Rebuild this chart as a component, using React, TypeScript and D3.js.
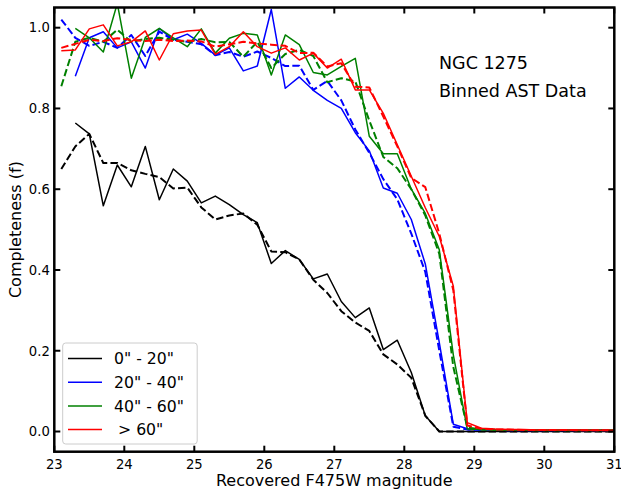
import React from "react";
import * as d3 from "d3";

const mags = [23.1, 23.3, 23.5, 23.7, 23.9, 24.1, 24.3, 24.5, 24.7, 24.9, 25.1, 25.3, 25.5, 25.7, 25.9, 26.1, 26.3, 26.5, 26.7, 26.9, 27.1, 27.3, 27.5, 27.7, 27.9, 28.1, 28.3, 28.5, 28.7, 28.9, 29.1, 29.3, 29.5, 29.7, 29.9, 30.1, 30.3, 30.5, 30.7, 30.9, 31.1];

// 0" - 20"
const blackSolid = [null, 0.764, 0.737, 0.559, 0.66, 0.606, 0.706, 0.574, 0.65, 0.62, 0.566, 0.583, 0.562, 0.537, 0.517, 0.416, 0.448, 0.426, 0.378, 0.39, 0.322, 0.282, 0.306, 0.203, 0.226, 0.146, 0.039, 0.0, 0.0, 0.0, 0.0, 0.0, 0.0, 0.0, 0.0, 0.0, 0.0, 0.0, 0.0, 0.0, 0.0];
const blackDashed = [0.65, 0.706, 0.737, 0.665, 0.665, 0.647, 0.638, 0.63, 0.602, 0.604, 0.555, 0.525, 0.535, 0.54, 0.512, 0.446, 0.444, 0.426, 0.376, 0.343, 0.298, 0.27, 0.249, 0.191, 0.166, 0.133, 0.039, 0.0, 0.0, 0.0, 0.0, 0.0, 0.0, 0.0, 0.0, 0.0, 0.0, 0.0, 0.0, 0.0, 0.0];
// 20" - 40"
const blueSolid = [null, 0.88, 0.975, 0.99, 0.95, 0.965, 0.9, 0.998, 0.97, 0.984, 0.961, 0.932, 0.95, 0.893, 0.905, 1.045, 0.85, 0.878, 0.845, 0.82, 0.8, 0.74, 0.695, 0.603, 0.59, 0.525, 0.415, 0.22, 0.018, 0.007, 0.005, 0.004, 0.004, 0.003, 0.003, 0.003, 0.003, 0.003, 0.003, 0.003, 0.003];
const blueDashed = [1.02, 0.975, 0.955, 0.965, 0.95, 0.982, 0.93, 0.99, 0.97, 0.965, 0.959, 0.932, 0.94, 0.928, 0.941, 0.925, 0.905, 0.906, 0.846, 0.868, 0.82, 0.748, 0.69, 0.625, 0.575, 0.49, 0.395, 0.2, 0.012, 0.005, 0.004, 0.004, 0.003, 0.003, 0.003, 0.003, 0.003, 0.003, 0.003, 0.003, 0.003];
// 40" - 60"
const greenSolid = [null, 0.998, 0.975, 0.94, 1.06, 0.875, 0.976, 0.998, 0.975, 0.953, 0.997, 0.937, 0.974, 0.986, 0.982, 0.883, 0.982, 0.958, 0.889, 0.883, 0.904, 0.924, 0.731, 0.688, 0.688, 0.6, 0.54, 0.45, 0.19, 0.006, 0.005, 0.004, 0.004, 0.004, 0.003, 0.003, 0.003, 0.003, 0.003, 0.003, 0.003];
const greenDashed = [0.855, 0.965, 0.975, 0.965, 0.995, 0.965, 0.972, 0.975, 0.97, 0.965, 0.972, 0.964, 0.965, 0.928, 0.965, 0.9, 0.935, 0.945, 0.93, 0.865, 0.875, 0.867, 0.77, 0.68, 0.652, 0.6, 0.535, 0.44, 0.16, 0.01, 0.005, 0.004, 0.004, 0.004, 0.003, 0.003, 0.003, 0.003, 0.003, 0.003, 0.003];
// > 60"
const redSolid = [0.943, 0.945, 0.997, 1.007, 0.955, 0.965, 0.992, 0.92, 0.985, 0.992, 0.994, 0.934, 0.953, 0.99, 0.953, 0.937, 0.95, 0.92, 0.937, 0.9, 0.922, 0.846, 0.846, 0.788, 0.71, 0.632, 0.554, 0.483, 0.36, 0.022, 0.008, 0.006, 0.005, 0.005, 0.004, 0.004, 0.004, 0.004, 0.003, 0.003, 0.003];
const redDashed = [0.95, 0.96, 0.97, 0.967, 0.974, 0.97, 0.967, 0.97, 0.967, 0.968, 0.966, 0.953, 0.959, 0.965, 0.961, 0.958, 0.955, 0.937, 0.938, 0.904, 0.912, 0.854, 0.852, 0.78, 0.706, 0.628, 0.605, 0.49, 0.35, 0.015, 0.007, 0.005, 0.005, 0.004, 0.004, 0.004, 0.004, 0.003, 0.003, 0.003, 0.003];

const legendLabels = ['0" - 20"', '20" - 40"', '40" - 60"', '> 60"'];
const seriesColors = ["#000000", "#0000ff", "#008000", "#ff0000"];
const xTicks = [23, 24, 25, 26, 27, 28, 29, 30, 31];
const yTicks = [0.0, 0.2, 0.4, 0.6, 0.8, 1.0];
const annot = ["NGC 1275", "Binned AST Data"];

const W = 621;
const H = 489;
const L = 54.3, R = 614.3, T = 7.5, B = 451.7;
const FONT = "DejaVu Sans, sans-serif";

export default function App() {
  const x = d3.scaleLinear().domain([23, 31]).range([L, R]);
  const y = d3.scaleLinear().domain([-0.05, 1.05]).range([B, T]);
  const line = d3
    .line<[number, number | null]>()
    .defined((d) => d[1] !== null)
    .x((d) => x(d[0]))
    .y((d) => y(d[1] as number));
  const mk = (vals: (number | null)[]) => line(mags.map((m, i) => [m, vals[i]] as [number, number | null])) || "";

  const series = [
    { v: blackSolid, c: seriesColors[0], dash: false },
    { v: blackDashed, c: seriesColors[0], dash: true },
    { v: blueSolid, c: seriesColors[1], dash: false },
    { v: blueDashed, c: seriesColors[1], dash: true },
    { v: greenSolid, c: seriesColors[2], dash: false },
    { v: greenDashed, c: seriesColors[2], dash: true },
    { v: redSolid, c: seriesColors[3], dash: false },
    { v: redDashed, c: seriesColors[3], dash: true },
  ];

  const tickLen = 6;
  const legendY = [358.6, 382.3, 405.9, 429.5];

  return (
    <svg width={W} height={H} style={{ position: "absolute", left: 0, top: 0, background: "#fff" }} fontFamily={FONT}>
      <defs>
        <clipPath id="plotclip">
          <rect x={L} y={T} width={R - L} height={B - T} />
        </clipPath>
      </defs>
      <rect x={0} y={0} width={W} height={H} fill="#fff" />
      <g clipPath="url(#plotclip)">
        {series.map((s, i) => (
          <path
            key={i}
            d={mk(s.v)}
            fill="none"
            stroke={s.c}
            strokeWidth={s.dash ? 2 : 1.5}
            strokeDasharray={s.dash ? "7.4,3.2" : undefined}
            strokeLinejoin="round"
          />
        ))}
      </g>
      {xTicks.map((t) => (
        <g key={"x" + t}>
          <line x1={x(t)} x2={x(t)} y1={B} y2={B - tickLen} stroke="#000" strokeWidth={2} />
          <line x1={x(t)} x2={x(t)} y1={T} y2={T + tickLen} stroke="#000" strokeWidth={2} />
          <text x={x(t)} y={B + 17} fontSize={13.2} textAnchor="middle" fill="#000">
            {t}
          </text>
        </g>
      ))}
      {yTicks.map((t) => (
        <g key={"y" + t}>
          <line x1={L} x2={L + tickLen} y1={y(t)} y2={y(t)} stroke="#000" strokeWidth={2} />
          <line x1={R} x2={R - tickLen} y1={y(t)} y2={y(t)} stroke="#000" strokeWidth={2} />
          <text x={L - 4.5} y={y(t) + 4.8} fontSize={13.2} textAnchor="end" fill="#000">
            {t.toFixed(1)}
          </text>
        </g>
      ))}
      <rect x={L} y={T} width={R - L} height={B - T} fill="none" stroke="#000" strokeWidth={2.5} />
      <text x={(L + R) / 2} y={486} fontSize={16} textAnchor="middle" fill="#000">
        Recovered F475W magnitude
      </text>
      <text transform={`translate(20.5, ${(T + B) / 2}) rotate(-90)`} fontSize={16} textAnchor="middle" fill="#000">
        Completeness (f)
      </text>
      <text x={439} y={69} fontSize={17.5} fill="#000">{annot[0]}</text>
      <text x={439} y={97} fontSize={17.5} fill="#000">{annot[1]}</text>
      <rect x={62.7} y={343} width={134.5} height={101} rx={3} fill="#fff" fillOpacity={0.8} stroke="#cccccc" strokeWidth={1} />
      {legendLabels.map((lab, i) => (
        <g key={lab}>
          <line x1={68} x2={102} y1={legendY[i]} y2={legendY[i]} stroke={seriesColors[i]} strokeWidth={1.5} />
          <text x={i === 3 ? 118 : 114} y={legendY[i] + 5.7} fontSize={15.7} fill="#000">
            {lab}
          </text>
        </g>
      ))}
    </svg>
  );
}
